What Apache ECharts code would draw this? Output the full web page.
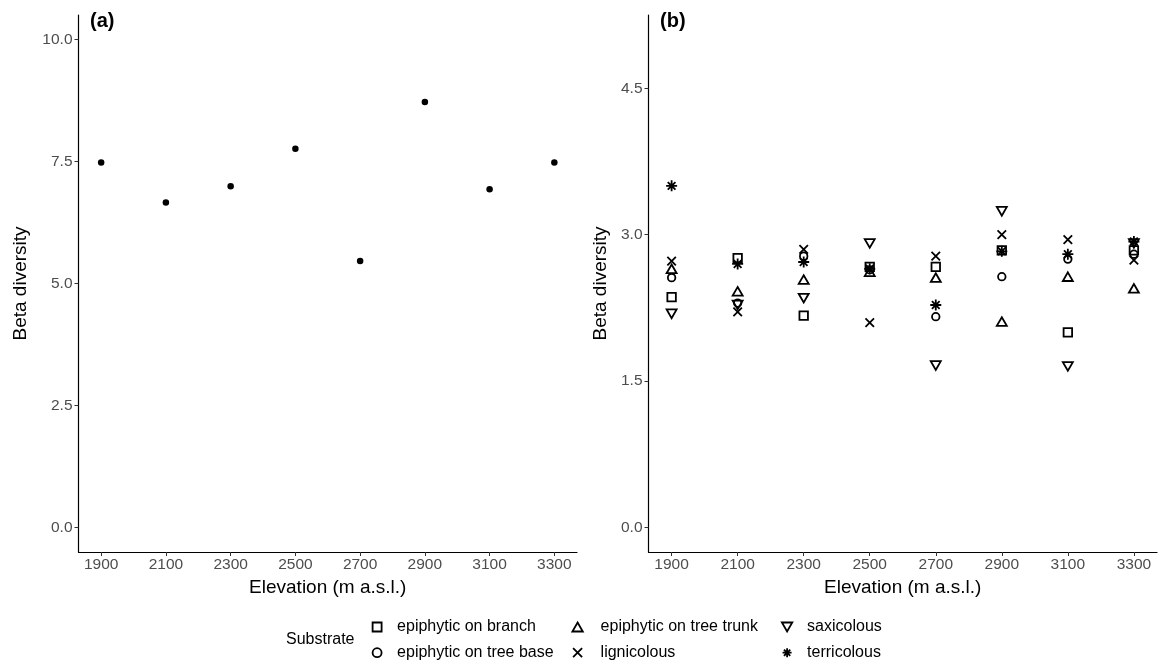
<!DOCTYPE html>
<html><head><meta charset="utf-8">
<script src="https://cdn.jsdelivr.net/npm/echarts@6/dist/echarts.min.js"></script>
<style>html,body{margin:0;padding:0;background:#fff}#c{width:1167px;height:664px}</style>
</head><body><div id="c"></div>
<script>
// ---- data ----
const elevations = [1900, 2100, 2300, 2500, 2700, 2900, 3100, 3300];
const betaTotal = [7.48, 6.66, 6.99, 7.76, 5.46, 8.72, 6.93, 7.48];
const substrateNames = ['epiphytic on branch', 'epiphytic on tree base', 'epiphytic on tree trunk', 'lignicolous', 'saxicolous', 'terricolous'];
const branch      = [2.36, 2.76, 2.17, 2.67, 2.67, 2.84, 2.00, 2.84];
const treeBase    = [2.56, 2.30, 2.78, 2.64, 2.16, 2.57, 2.75, 2.80];
const treeTrunk   = [2.65, 2.42, 2.54, 2.62, 2.56, 2.11, 2.57, 2.45];
const lignicolous = [2.73, 2.21, 2.85, 2.10, 2.78, 3.00, 2.95, 2.74];
const saxicolous  = [2.19, 2.28, 2.35, 2.91, 1.66, 3.24, 1.65, 2.91];
const terricolous = [3.50, 2.70, 2.72, 2.65, 2.28, 2.83, 2.80, 2.93];
const xTicks = [1900, 2100, 2300, 2500, 2700, 2900, 3100, 3300];
const yTicksA = [0, 2.5, 5, 7.5, 10];
const yTicksB = [0, 1.5, 3, 4.5];

// ---- styling ----
const FF = 'Liberation Sans, Arial, sans-serif';
const substrateValues = [branch, treeBase, treeTrunk, lignicolous, saxicolous, terricolous];
const symbols = [
  {symbol: 'path://M0,0 L10,0 L10,10 L0,10 Z', size: 8.5},
  {symbol: 'circle', size: 7.5},
  {symbol: 'path://M5,0 L10,8.66 L0,8.66 Z', size: 10},
  {symbol: 'path://M0,0 L10,10 M10,0 L0,10', size: 8.5},
  {symbol: 'path://M0,0 L10,0 L5,8.66 Z', size: 10},
  {symbol: 'path://M5,0 L5,10 M0,5 L10,5 M1.5,1.5 L8.5,8.5 M8.5,1.5 L1.5,8.5', size: 11}
];

function pairs(vals) { return elevations.map((e, i) => [e, vals[i]]); }

function xAxis(gridIndex) {
  return {
    type: 'value', gridIndex: gridIndex, min: 1830, max: 3370,
    axisLine: {show: true, onZero: false, lineStyle: {color: '#000', width: 1.2}},
    axisTick: {show: true, length: 4, customValues: xTicks, lineStyle: {color: '#333', width: 1}},
    axisLabel: {customValues: xTicks, color: '#4d4d4d', fontSize: 15.5, margin: 5, fontFamily: FF,
      formatter: v => String(v)},
    splitLine: {show: false},
    name: 'Elevation (m a.s.l.)', nameLocation: 'middle', nameGap: 20,
    nameTextStyle: {fontSize: 19, color: '#000', fontFamily: FF}
  };
}
function yAxis(gridIndex, min, max, ticks, gap) {
  return {
    type: 'value', gridIndex: gridIndex, min: min, max: max,
    axisLine: {show: true, onZero: false, lineStyle: {color: '#000', width: 1.2}},
    axisTick: {show: true, length: 4, customValues: ticks, lineStyle: {color: '#333', width: 1}},
    axisLabel: {customValues: ticks, color: '#4d4d4d', fontSize: 15.5, margin: 6, fontFamily: FF,
      formatter: v => v.toFixed(1)},
    splitLine: {show: false},
    name: 'Beta diversity', nameLocation: 'middle', nameGap: gap,
    nameTextStyle: {fontSize: 19, color: '#000', fontFamily: FF}
  };
}

const series = [{
  type: 'scatter', xAxisIndex: 0, yAxisIndex: 0, name: 'total',
  data: pairs(betaTotal), symbol: 'circle', symbolSize: 6.5,
  itemStyle: {color: '#000', opacity: 1}
}];
substrateNames.forEach((n, k) => {
  series.push({
    type: 'scatter', xAxisIndex: 1, yAxisIndex: 1, name: n,
    data: pairs(substrateValues[k]),
    symbol: symbols[k].symbol, symbolSize: symbols[k].size, symbolKeepAspect: true,
    itemStyle: {color: 'rgba(0,0,0,0)', borderColor: '#000', borderWidth: 1.8, opacity: 1}
  });
});

function legend(names, left, w) {
  return {
    data: names, orient: 'vertical', left: left, top: 619, padding: 0,
    itemWidth: w, itemHeight: 9, itemGap: 9.7, selectedMode: false, symbolKeepAspect: true,
    itemStyle: {borderWidth: 1.8, borderColor: '#000'},
    textStyle: {fontSize: 16, color: '#000', fontFamily: FF, lineHeight: 16}
  };
}

const option = {
  animation: false,
  backgroundColor: '#fff',
  title: [
    {text: '(a)', left: 90, top: 11, padding: 0, textStyle: {fontSize: 20, fontWeight: 'bold', color: '#000', fontFamily: FF}},
    {text: '(b)', left: 660, top: 11, padding: 0, textStyle: {fontSize: 20, fontWeight: 'bold', color: '#000', fontFamily: FF}},
    {text: 'Substrate', left: 286, top: 632, padding: 0, textStyle: {fontSize: 16, fontWeight: 'normal', color: '#000', fontFamily: FF}}
  ],
  grid: [
    {left: 78.5, width: 498.5, top: 15, height: 537},
    {left: 648.5, width: 508.5, top: 15, height: 537}
  ],
  xAxis: [xAxis(0), xAxis(1)],
  yAxis: [yAxis(0, -0.5, 10.5, yTicksA, 48), yAxis(1, -0.25, 5.25, yTicksB, 38)],
  legend: [
    legend([substrateNames[0], substrateNames[1]], 371.7, 30),
    legend([substrateNames[2], substrateNames[3]], 571.5, 36),
    legend([substrateNames[4], substrateNames[5]], 781, 30)
  ],
  series: series
};
const chart = echarts.init(document.getElementById('c'), null, {renderer: 'canvas'});
chart.setOption(option);
</script></body></html>
